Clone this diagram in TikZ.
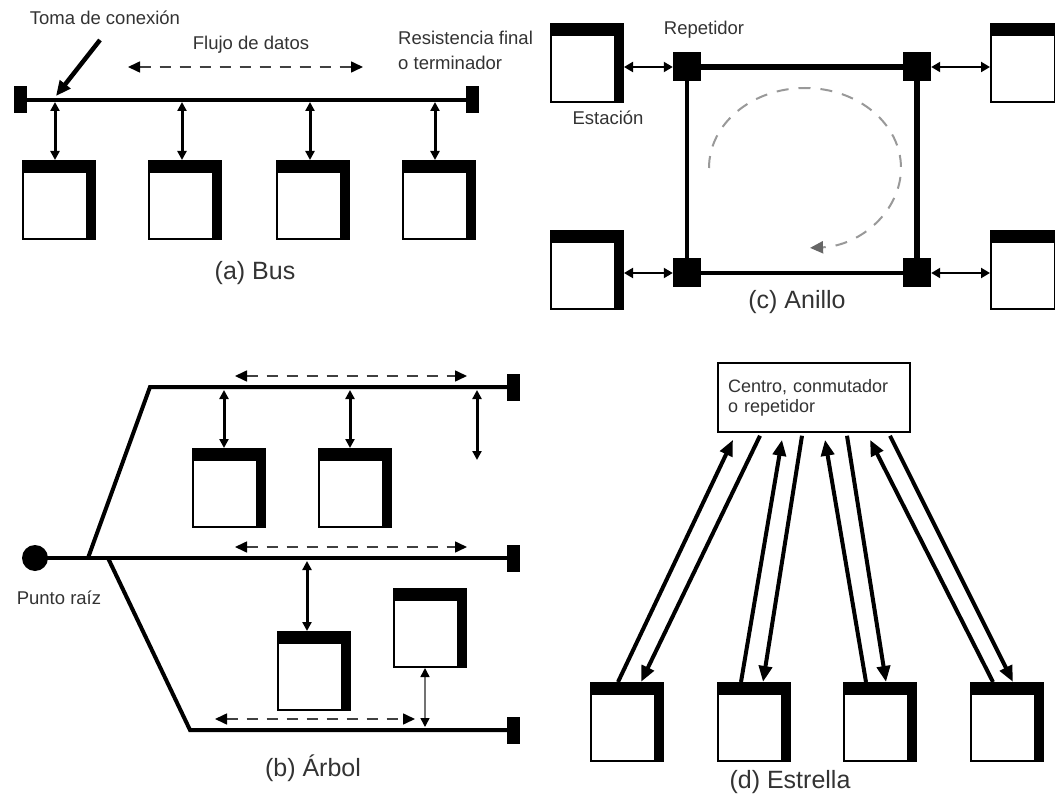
\documentclass[tikz,border=0pt]{standalone}
\usepackage{fontspec}
\setmainfont{Liberation Sans}
\usetikzlibrary{arrows.meta}
\begin{document}
\begin{tikzpicture}[x=1pt,y=-1pt,
  stationbox/.style={draw, line width=2pt, fill=white, minimum width=72pt, minimum height=78pt,
    inner sep=0pt, anchor=north west,
    path picture={\fill[black] ([yshift=-12pt]path picture bounding box.north west) rectangle (path picture bounding box.north east);
                  \fill[black] ([xshift=-9pt]path picture bounding box.north east) rectangle (path picture bounding box.south east);}},
  termbox/.style={fill=black, minimum width=13pt, minimum height=27pt, inner sep=0pt},
  repbox/.style={fill=black, minimum width=28pt, minimum height=29pt, inner sep=0pt},
  rootdot/.style={circle, fill=black, minimum size=26pt, inner sep=0pt},
  hubbox/.style={draw, line width=1.5pt, fill=white, minimum width=192pt, minimum height=69pt,
    text width=172pt, inner xsep=10pt, align=left, font=\fontsize{18}{20}\selectfont, text=black!80},
  lbl/.style={font=\fontsize{18.5}{25}\selectfont, text=black!80, inner sep=0pt},
  captext/.style={font=\fontsize{25}{28}\selectfont, text=black!80, inner sep=0pt},
  busline/.style={line width=4pt},
  tap/.style={line width=3pt, {Triangle[length=9pt,width=9pt]}-{Triangle[length=9pt,width=9pt]}},
  rtap/.style={line width=2pt, {Triangle[length=9pt,width=10pt]}-{Triangle[length=9pt,width=10pt]}},
  thintap/.style={line width=1.5pt, draw=black!55, {Triangle[length=9pt,width=9pt,fill=black,color=black]}-{Triangle[length=9pt,width=9pt,fill=black,color=black]}},
  flow/.style={line width=1.6pt, draw=black!75, dash pattern=on 11pt off 9pt,
    {Triangle[length=12pt,width=11pt,color=black]}-{Triangle[length=12pt,width=11pt,color=black]}},
  starline/.style={line width=4pt, -{Triangle[length=16pt,width=13pt]}},
  tomaarrow/.style={line width=4.5pt, -{Triangle[length=15pt,width=13pt]}}
]
\fill[white] (0,0) rectangle (1055,794);
\clip (0,0) rectangle (1055,794);

% ---------------- (a) Bus ----------------
\node[termbox] (tL) at (20,100) {};
\node[termbox] (tR) at (472,100) {};
\draw[busline] (tL.center) -- (tR.center);
\node[stationbox] (b1) at (22,160) {};
\node[stationbox] (b2) at (148,160) {};
\node[stationbox] (b3) at (276,160) {};
\node[stationbox] (b4) at (402,160) {};
\coordinate (k1) at (55,102);
\coordinate (k2) at (182,102);
\coordinate (k3) at (310,102);
\coordinate (k4) at (435,102);
\draw[tap] (k1) -- (k1 |- b1.north);
\draw[tap] (k2) -- (k2 |- b2.north);
\draw[tap] (k3) -- (k3 |- b3.north);
\draw[tap] (k4) -- (k4 |- b4.north);
\node[lbl] (toma) at (105,18) {Toma de conexión};
\coordinate (tomaS) at (100,40);
\coordinate (tomaE) at (56,96);
\draw[tomaarrow] (tomaS) -- (tomaE);
\node[lbl] (flujo) at (251,45) {Flujo de datos};
\coordinate (f1) at (128,67);
\coordinate (f2) at (363,67);
\draw[flow] (f1) -- (f2);
\node[lbl, anchor=west, align=left] (resis) at (398,50) {Resistencia final\\o terminador};
\node[captext] (capa) at (255,273) {(a) Bus};

% ---------------- (c) Anillo ----------------
\node[repbox] (r1) at (687,67) {};
\node[repbox] (r2) at (917,67) {};
\node[repbox] (r3) at (687,273) {};
\node[repbox] (r4) at (917,273) {};
\draw[line width=6pt] (r1.center) -- (r2.center) -- (r4.center);
\draw[line width=3.5pt] (r1.center) -- (r3.center) -- (r4.center);
\node[repbox] at (r1) {};
\node[repbox] at (r2) {};
\node[repbox] at (r3) {};
\node[repbox] at (r4) {};
\node[stationbox] (s1) at (550,23) {};
\node[stationbox] (s2) at (990,23) {};
\node[stationbox] (s3) at (550,230) {};
\node[stationbox] (s4) at (990,230) {};
\draw[rtap] (s1.east |- r1) -- (r1.west);
\draw[rtap] (r2.east) -- (s2.west |- r2);
\draw[rtap] (s3.east |- r3) -- (r3.west);
\draw[rtap] (r4.east) -- (s4.west |- r4);
\node[lbl] (repet) at (704,30) {Repetidor};
\node[lbl] (estac) at (608,118) {Estación};
\coordinate (ringc) at (805,168);
\draw[draw=black!40, line width=2pt, dash pattern=on 12pt off 10pt,
  -{Triangle[length=13pt,width=12pt,color=black!60]}]
  ([shift={(-96,0)}]ringc) arc[start angle=180, end angle=447, x radius=96, y radius=80];
\node[captext] (capc) at (797,302) {(c) Anillo};

% ---------------- (b) Arbol ----------------
\node[rootdot] (root) at (35,558) {};
\node[termbox] (e1) at (513,387) {};
\node[termbox] (e2) at (513,558) {};
\node[termbox] (e3) at (513,730) {};
\coordinate (us) at (88,558);
\coordinate (ub) at (150,387);
\coordinate (ls) at (108,558);
\coordinate (lb) at (190,730);
\draw[busline] (root.center) -- (e2.center);
\draw[busline] (us) -- (ub) -- (e1.center);
\draw[busline] (ls) -- (lb) -- (e3.center);
\node[stationbox] (a1) at (192,448) {};
\node[stationbox] (a2) at (318,448) {};
\node[stationbox] (a3) at (277,631) {};
\node[stationbox] (a4) at (393,588) {};
\coordinate (m1) at (224,390);
\coordinate (m2) at (350,390);
\coordinate (m3) at (307,561);
\coordinate (m4) at (477,390);
\coordinate (m4e) at (477,460);
\coordinate (m5) at (425,727);
\draw[tap] (m1) -- (m1 |- a1.north);
\draw[tap] (m2) -- (m2 |- a2.north);
\draw[tap] (m3) -- (m3 |- a3.north);
\draw[tap] (m4) -- (m4e);
\draw[thintap] (m5) -- (m5 |- a4.south);
\coordinate (g1) at (235,376);
\coordinate (g2) at (467,376);
\coordinate (g3) at (235,547);
\coordinate (g4) at (467,547);
\coordinate (g5) at (215,719);
\coordinate (g6) at (415,719);
\draw[flow] (g1) -- (g2);
\draw[flow] (g3) -- (g4);
\draw[flow] (g5) -- (g6);
\node[lbl] (punto) at (59,598) {Punto raíz};
\node[captext] (capb) at (313,768) {(b) Árbol};

% ---------------- (d) Estrella ----------------
\node[hubbox] (hub) at (814,397.5) {Centro, conmutador\\o repetidor};
\node[stationbox] (d1) at (590,682) {};
\node[stationbox] (d2) at (717,682) {};
\node[stationbox] (d3) at (843,682) {};
\node[stationbox] (d4) at (970,682) {};
\draw[starline] ([xshift=-9pt]d1.north) -- ([xshift=-81pt,yshift=-7pt]hub.south);
\draw[starline] ([xshift=-54pt,yshift=-3pt]hub.south) -- ([xshift=14pt]d1.north);
\draw[starline] ([xshift=-13pt]d2.north) -- ([xshift=-32pt,yshift=-7pt]hub.south);
\draw[starline] ([xshift=-12pt,yshift=-3pt]hub.south) -- ([xshift=9pt]d2.north);
\draw[starline] ([xshift=-14pt]d3.north) -- ([xshift=11pt,yshift=-7pt]hub.south);
\draw[starline] ([xshift=33pt,yshift=-3pt]hub.south) -- ([xshift=6pt]d3.north);
\draw[starline] ([xshift=-14pt]d4.north) -- ([xshift=56pt,yshift=-7pt]hub.south);
\draw[starline] ([xshift=76pt,yshift=-3pt]hub.south) -- ([xshift=6pt]d4.north);
\node[captext] (capd) at (790,782) {(d) Estrella};
\end{tikzpicture}
\end{document}
